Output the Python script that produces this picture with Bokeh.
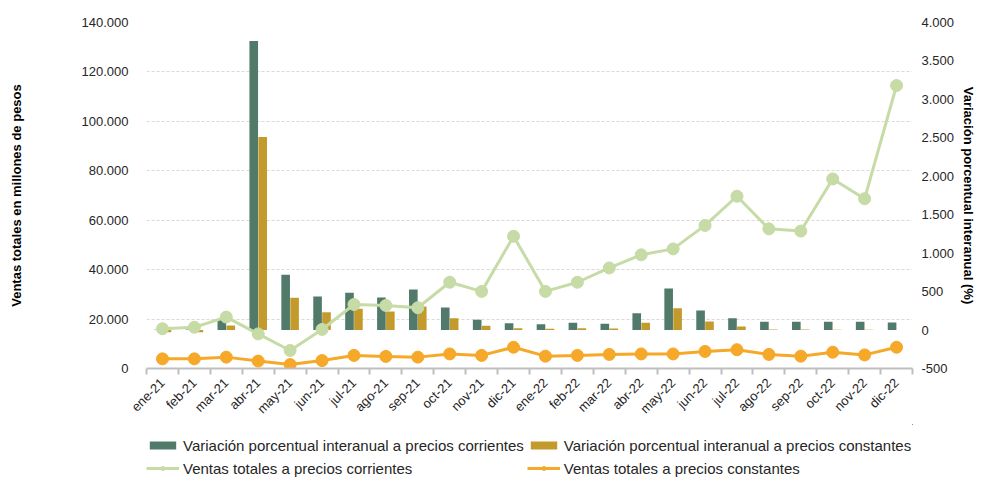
from math import pi
from bokeh.plotting import figure
from bokeh.layouts import column
from bokeh.models import (Range1d, LinearAxis, FixedTicker, Legend, LegendItem,
                          ColumnDataSource)
from bokeh.transform import dodge
from bokeh.embed import file_html
from bokeh.resources import INLINE

# ---------------- data ----------------
months = ["ene-21", "feb-21", "mar-21", "abr-21", "may-21", "jun-21",
          "jul-21", "ago-21", "sep-21", "oct-21", "nov-21", "dic-21",
          "ene-22", "feb-22", "mar-22", "abr-22", "may-22", "jun-22",
          "jul-22", "ago-22", "sep-22", "oct-22", "nov-22", "dic-22"]

# Variación porcentual interanual (%), right axis
var_corrientes = [5, 8, 147, 3758, 719, 437, 485, 424, 528, 294, 134, 90,
                  77, 95, 82, 220, 541, 255, 155, 108, 108, 108, 108, 99]
var_constantes = [-30, -30, 60, 2510, 420, 233, 277, 242, 307, 155, 56, 25,
                  17, 25, 20, 95, 285, 112, 47, 8, 8, 5, 5, 2]

# Ventas totales en millones de pesos, left axis
ventas_corrientes = [16100, 16700, 20800, 14000, 7300, 15800, 25900, 25500,
                     24600, 34900, 31200, 53500, 31200, 34900, 40700, 46000,
                     48400, 57900, 69700, 56500, 55600, 76700, 68700, 114500]
ventas_constantes = [3900, 3900, 4600, 3000, 1600, 3200, 5300, 4900, 4600,
                     5900, 5300, 8600, 5000, 5300, 5700, 5900, 5900, 6900,
                     7600, 5700, 5000, 6600, 5500, 8600]

left_ticks = [0, 20000, 40000, 60000, 80000, 100000, 120000, 140000]
right_ticks = [-500, 0, 500, 1000, 1500, 2000, 2500, 3000, 3500, 4000]

series_labels = ["Variación porcentual interanual a precios corrientes",
                 "Variación porcentual interanual a precios constantes",
                 "Ventas totales a precios corrientes",
                 "Ventas totales a precios constantes"]

# ---------------- styling ----------------
FONT = "Liberation Sans"
DARK = "#527a6a"
GOLD = "#c39b2c"
LGREEN = "#c6dba6"
ORANGE = "#f6a828"
TXT = "#262626"

def fmt(v):
    return f"{v:,}".replace(",", ".")

xs = [i + 0.5 for i in range(len(months))]
src = ColumnDataSource(dict(x=xs, vc=var_corrientes, vk=var_constantes,
                            sc=ventas_corrientes, sk=ventas_constantes))

p = figure(width=985, height=424, output_backend="svg", toolbar_location=None,
           x_range=Range1d(0, len(months)), y_range=Range1d(0, 140000),
           min_border_left=146, min_border_right=73, min_border_top=22,
           min_border_bottom=56)
p.outline_line_color = None
p.background_fill_color = "white"
p.border_fill_color = "white"

p.extra_y_ranges = {"pct": Range1d(-500, 4000)}

# grid
p.xgrid.visible = False
p.ygrid.ticker = FixedTicker(ticks=left_ticks)
p.ygrid.grid_line_color = "#d9d9d9"
p.ygrid.grid_line_dash = "3 2"
p.ygrid.grid_line_width = 1

# left axis
ya = p.yaxis[0]
ya.ticker = FixedTicker(ticks=left_ticks)
ya.major_label_overrides = {v: fmt(v) for v in left_ticks}
ya.axis_line_color = None
ya.major_tick_line_color = None
ya.minor_tick_line_color = None
ya.major_label_standoff = 12
ya.major_label_text_font = FONT
ya.major_label_text_font_size = "13px"
ya.major_label_text_color = TXT
ya.axis_label = "Ventas totales en millones de pesos"
ya.axis_label_text_font = FONT
ya.axis_label_text_font_size = "13px"
ya.axis_label_text_font_style = "bold"
ya.axis_label_text_color = "#000000"
ya.axis_label_standoff = 55

# right axis
ra = LinearAxis(y_range_name="pct", ticker=FixedTicker(ticks=right_ticks))
ra.major_label_overrides = {v: fmt(v) for v in right_ticks}
ra.axis_line_color = None
ra.major_tick_line_color = None
ra.minor_tick_line_color = None
ra.major_tick_out = 0
ra.major_tick_in = 0
ra.major_label_standoff = 9
ra.major_label_text_font = FONT
ra.major_label_text_font_size = "13px"
ra.major_label_text_color = TXT
ra.axis_label = "Variación porcentual interanual (%)"
ra.axis_label_text_font = FONT
ra.axis_label_text_font_size = "13px"
ra.axis_label_text_font_style = "bold"
ra.axis_label_text_color = "#000000"
ra.axis_label_standoff = 4
p.add_layout(ra, "right")

# x axis
xa = p.xaxis[0]
xa.ticker = FixedTicker(ticks=xs, minor_ticks=list(range(len(months) + 1)))
xa.major_label_overrides = {x: m for x, m in zip(xs, months)}
xa.major_tick_line_color = None
xa.major_tick_out = 0
xa.major_tick_in = 0
xa.minor_tick_line_color = "#bfbfbf"
xa.minor_tick_line_width = 2
xa.minor_tick_out = 6
xa.minor_tick_in = 0
xa.axis_line_color = "#bfbfbf"
xa.axis_line_width = 2
xa.major_label_orientation = pi / 4
xa.major_label_standoff = 6
xa.major_label_text_font = FONT
xa.major_label_text_font_size = "13px"
xa.major_label_text_color = TXT

# bars
p.vbar(x=dodge("x", -0.14, range=p.x_range), top="vc", bottom=0, width=0.27,
       source=src, y_range_name="pct", fill_color=DARK, line_color=None)
p.vbar(x=dodge("x", 0.14, range=p.x_range), top="vk", bottom=0, width=0.27,
       source=src, y_range_name="pct", fill_color=GOLD, line_color=None)

# lines
p.line("x", "sc", source=src, line_color=LGREEN, line_width=3)
p.scatter("x", "sc", source=src, size=12, fill_color=LGREEN, line_color=LGREEN)
p.line("x", "sk", source=src, line_color=ORANGE, line_width=3)
p.scatter("x", "sk", source=src, size=12, fill_color=ORANGE, line_color=ORANGE)

# ---------------- legend strip (same series, view window left empty) ----------------
leg = figure(width=985, height=54, output_backend="svg", toolbar_location=None,
             x_range=Range1d(-2, -1), y_range=Range1d(-1000, -999),
             min_border_left=0, min_border_right=0, min_border_top=0,
             min_border_bottom=0)
leg.axis.visible = False
leg.grid.visible = False
leg.outline_line_color = None
leg.border_fill_color = "white"
leg.background_fill_color = "white"

r1 = leg.vbar(x="x", top="vc", width=0.27, source=src, fill_color=DARK, line_color=None)
r2 = leg.vbar(x="x", top="vk", width=0.27, source=src, fill_color=GOLD, line_color=None)
r3l = leg.line("x", "sc", source=src, line_color=LGREEN, line_width=3)
r3s = leg.scatter("x", "sc", source=src, size=10, fill_color=LGREEN, line_color=LGREEN)
r4l = leg.line("x", "sk", source=src, line_color=ORANGE, line_width=3)
r4s = leg.scatter("x", "sk", source=src, size=10, fill_color=ORANGE, line_color=ORANGE)

legend = Legend(items=[
    LegendItem(label=series_labels[0], renderers=[r1]),
    LegendItem(label=series_labels[1], renderers=[r2]),
    LegendItem(label=series_labels[2], renderers=[r3l, r3s]),
    LegendItem(label=series_labels[3], renderers=[r4l, r4s]),
], location=(0, 0), orientation="horizontal", nrows=2)
legend.border_line_color = None
legend.background_fill_alpha = 0
legend.padding = 0
legend.margin = 0
legend.spacing = 3
legend.label_height = 20
legend.glyph_height = 10
legend.glyph_width = 33
legend.label_standoff = 4
legend.label_text_font = FONT
legend.label_text_font_size = "15px"
legend.label_text_color = TXT
leg.add_layout(legend, "center")

layout = column(p, leg, spacing=0)
open("out.html", "w").write(file_html(layout, INLINE))
